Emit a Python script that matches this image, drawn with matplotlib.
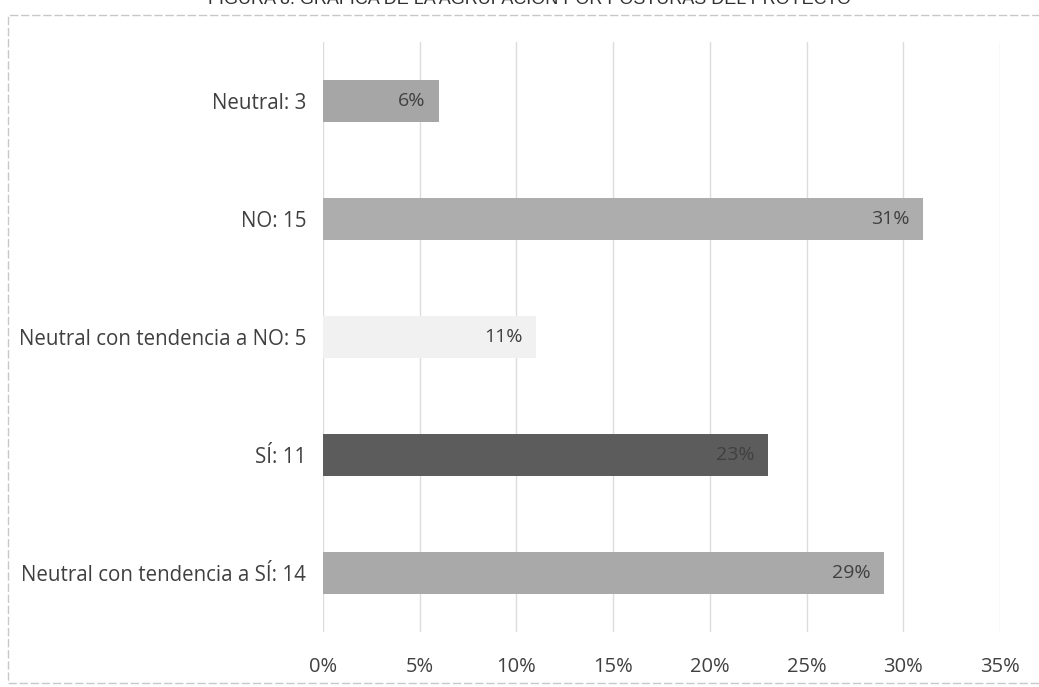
import matplotlib
matplotlib.use("Agg")
import matplotlib.pyplot as plt
from matplotlib.patches import Rectangle
from matplotlib.ticker import FuncFormatter, MultipleLocator

categories = ["Neutral con tendencia a SÍ: 14", "SÍ: 11", "Neutral con tendencia a NO: 5", "NO: 15", "Neutral: 3"]
percentages = [29, 23, 11, 31, 6]
bar_colors = ["#a9a9a9", "#5c5c5c", "#f1f1f1", "#adadad", "#a6a6a6"]
title = "FIGURA 8. GRÁFICA DE LA AGRUPACIÓN POR POSTURAS DEL PROYECTO"

plt.rcParams['font.family'] = ['Open Sans', 'DejaVu Sans']
fig = plt.figure(figsize=(10.39, 6.87), dpi=100)
ax = fig.add_axes([323/1039, 1 - 632/687, 677/1039, 590/687])

y = list(range(len(categories)))
shares = [p / 100 for p in percentages]
bars = ax.barh(y, shares, height=0.36, color=bar_colors, zorder=3)
for b, p in zip(bars, percentages):
    ax.text(b.get_width() - 0.007, b.get_y() + b.get_height()/2, f"{p}%",
            ha="right", va="center", fontsize=14, color="#404040", zorder=4)

ax.set_xlim(0, 0.35)
ax.set_ylim(-0.5, len(categories) - 0.5)
ax.xaxis.set_major_locator(MultipleLocator(0.05))
ax.xaxis.set_major_formatter(FuncFormatter(lambda v, p: f"{v*100:.0f}%"))
ax.set_yticks(y)
ax.set_yticklabels(categories)
ax.tick_params(axis="x", length=0, labelsize=14.5, labelcolor="#404040", pad=18)
ax.tick_params(axis="y", length=0, labelsize=14.8, labelcolor="#404040", pad=12)
ax.grid(axis="x", color="#dcdcdc", linewidth=1, zorder=0)
for sp in ax.spines.values():
    sp.set_visible(False)

fig.add_artist(Rectangle((8/1039, 4/687), 1.2, 668/687, transform=fig.transFigure,
                         fill=False, edgecolor="#c8c8c8", linestyle=(0, (6, 2)), linewidth=1))
fig.text(530/1039, 1 + 1/687, title, ha="center", va="center", fontsize=13,
         color="#303030", family=['Liberation Sans', 'DejaVu Sans'])

fig.savefig("out.png", dpi=100, facecolor="white")
